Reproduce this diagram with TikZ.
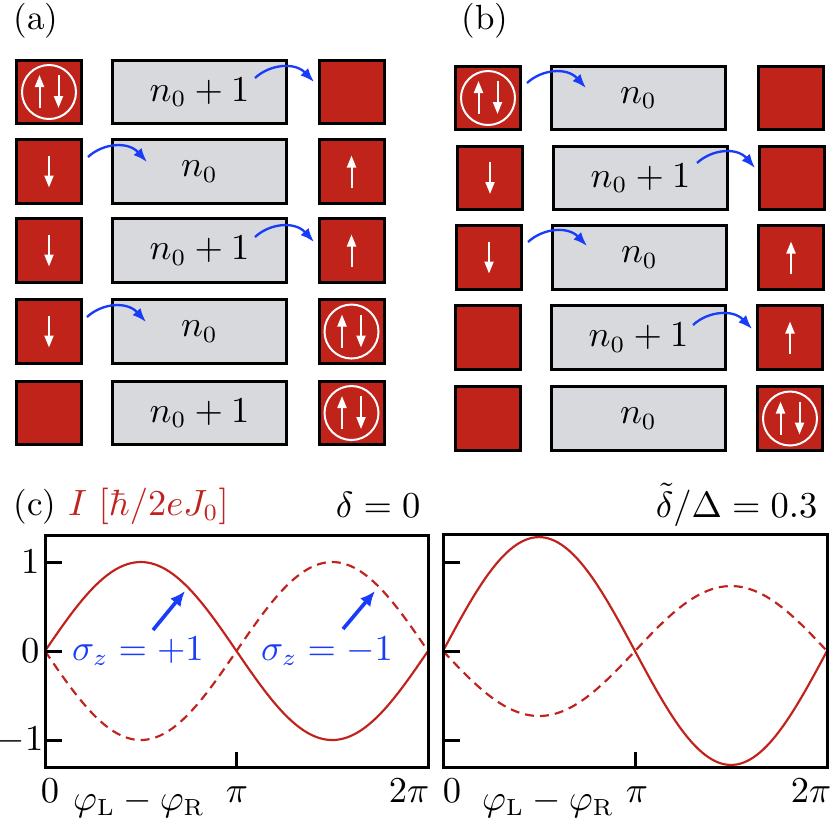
\documentclass[tikz,border=0pt]{standalone}
\usetikzlibrary{arrows.meta}
\definecolor{cred}{RGB}{192,35,26}
\definecolor{cgray}{RGB}{216,217,220}
\definecolor{cblue}{RGB}{25,60,250}
\definecolor{pred}{RGB}{192,35,30}
\tikzset{
  every node/.style={font=\fontsize{10.5}{12.6}\selectfont},
  lbl/.style={inner sep=0pt},
  site/.style={draw=black,line width=0.9pt,fill=cred,minimum width=19.5pt,minimum height=19pt,inner sep=0pt},
  dotbox/.style={draw=black,line width=0.9pt,fill=cgray,minimum width=52.2pt,minimum height=19pt,inner sep=0pt},
  hop/.style={cblue,line width=0.7pt,-{Latex[length=4.2pt,width=3.2pt]}},
  marker/.style={cblue,line width=1.1pt,-{Latex[length=4.5pt,width=4pt]}},
  frame/.style={draw=black,line width=0.9pt},
  tickline/.style={black,line width=0.9pt},
  curve/.style={pred,line width=0.65pt,smooth},
  dcurve/.style={pred,line width=0.65pt,smooth,dash pattern=on 2.7pt off 1.8pt},
  spinup/.pic={\draw[white,line width=0.6pt,-{Triangle[length=3.6pt,width=2.7pt]}] (0,16)--(0,-16);},
  spindown/.pic={\draw[white,line width=0.6pt,-{Triangle[length=3.6pt,width=2.7pt]}] (0,-16)--(0,16);},
  spinpair/.pic={\draw[white,line width=0.6pt] (0,0) circle[radius=27];
    \draw[white,line width=0.6pt,-{Triangle[length=3.6pt,width=2.7pt]}] (-9.5,16)--(-9.5,-17);
    \draw[white,line width=0.6pt,-{Triangle[length=3.6pt,width=2.7pt]}] (9.5,-17)--(9.5,16);}
}
\begin{document}
\begin{tikzpicture}[x=0.3pt,y=-0.3pt]
\useasboundingbox (0,0) rectangle (830,818);
% ---------------- panel (a)
\node[lbl,anchor=base west] (la) at (13,29) {(a)};
\node[site] (aL1) at (49,92) {};
\node[site] (aL2) at (49,171.5) {};
\node[site] (aL3) at (49,250.5) {};
\node[site] (aL4) at (49,331.5) {};
\node[site] (aL5) at (49,413) {};
\node[dotbox] (aM1) at (199.5,92) {$n_0+1$};
\node[dotbox] (aM2) at (199.5,171.5) {$n_0$};
\node[dotbox] (aM3) at (199.5,250.5) {$n_0+1$};
\node[dotbox] (aM4) at (199.5,331.5) {$n_0$};
\node[dotbox] (aM5) at (199.5,413) {$n_0+1$};
\node[site] (aR1) at (351.5,92) {};
\node[site] (aR2) at (351.5,171.5) {};
\node[site] (aR3) at (351.5,250.5) {};
\node[site] (aR4) at (351.5,331.5) {};
\node[site] (aR5) at (351.5,413) {};
\pic at (aL1) {spinpair};
\pic at (aL2) {spindown};
\pic at (aL3) {spindown};
\pic at (aL4) {spindown};
\pic at (aR2) {spinup};
\pic at (aR3) {spinup};
\pic at (aR4) {spinpair};
\pic at (aR5) {spinpair};
\coordinate (ha1s) at (255,78);  \coordinate (ha1e) at (314,82);
\coordinate (ha2s) at (88,157);  \coordinate (ha2e) at (147,162);
\coordinate (ha3s) at (255,237); \coordinate (ha3e) at (314,242);
\coordinate (ha4s) at (87,317);  \coordinate (ha4e) at (146,322);
\draw[hop] (ha1s) .. controls (270,64) and (295,62) .. (ha1e);
\draw[hop] (ha2s) .. controls (103,143) and (128,141) .. (ha2e);
\draw[hop] (ha3s) .. controls (270,223) and (295,221) .. (ha3e);
\draw[hop] (ha4s) .. controls (102,303) and (127,301) .. (ha4e);
% ---------------- panel (b)
\node[lbl,anchor=base west] (lb) at (461,29) {(b)};
\node[site] (bL1) at (488,98) {};
\node[site] (bL2) at (490,178) {};
\node[site] (bL3) at (489,257.5) {};
\node[site] (bL4) at (488,337.5) {};
\node[site] (bL5) at (488,418.5) {};
\node[dotbox] (bM1) at (638.5,98) {$n_0$};
\node[dotbox] (bM2) at (640.5,178) {$n_0+1$};
\node[dotbox] (bM3) at (639.5,257.5) {$n_0$};
\node[dotbox] (bM4) at (638.5,337.5) {$n_0+1$};
\node[dotbox] (bM5) at (638.5,418.5) {$n_0$};
\node[site] (bR1) at (790.5,98) {};
\node[site] (bR2) at (792,178) {};
\node[site] (bR3) at (791,257.5) {};
\node[site] (bR4) at (790,337.5) {};
\node[site] (bR5) at (790,418.5) {};
\pic at (bL1) {spinpair};
\pic at (bL2) {spindown};
\pic at (bL3) {spindown};
\pic at (bR3) {spinup};
\pic at (bR4) {spinup};
\pic at (bR5) {spinpair};
\coordinate (hb1s) at (527,83);  \coordinate (hb1e) at (586,88);
\coordinate (hb2s) at (697,163); \coordinate (hb2e) at (755,168);
\coordinate (hb3s) at (528,242); \coordinate (hb3e) at (587,246);
\coordinate (hb4s) at (693,325); \coordinate (hb4e) at (752,329);
\draw[hop] (hb1s) .. controls (542,69) and (567,67) .. (hb1e);
\draw[hop] (hb2s) .. controls (712,149) and (737,147) .. (hb2e);
\draw[hop] (hb3s) .. controls (543,228) and (568,226) .. (hb3e);
\draw[hop] (hb4s) .. controls (708,311) and (733,309) .. (hb4e);
% ---------------- panel (c) left
\node[lbl,anchor=base west] (lc) at (13,515) {(c) \textcolor{pred}{$I~[\hbar/2eJ_0]$}};
\node[lbl,anchor=base east] (d0) at (421,517) {$\delta=0$};
\draw[curve] plot[domain=0:360,samples=121] ({45+\x/360*383},{651-89*sin(\x)});
\draw[dcurve] plot[domain=0:360,samples=121] ({45+\x/360*383},{651+89*sin(\x)});
\draw[tickline] (45,562) -- (62,562);
\draw[tickline] (45,651) -- (62,651);
\draw[tickline] (45,740) -- (62,740);
\draw[tickline] (236.5,767) -- (236.5,752);
\draw[frame] (45,535) rectangle (428,767);
\node[lbl,anchor=base east] (y1) at (40,573) {$1$};
\node[lbl,anchor=base east] (y0) at (40,662) {$0$};
\node[lbl,anchor=base east] (ym1) at (44,750) {$-1$};
\node[lbl,anchor=base] (x0) at (50,802) {$0$};
\node[lbl,anchor=base] (xpi) at (237,802) {$\pi$};
\node[lbl,anchor=base] (x2pi) at (409,802) {$2\pi$};
\node[lbl,anchor=base] (xlab) at (139,810) {$\varphi_{\mathrm{L}}-\varphi_{\mathrm{R}}$};
\node[lbl,anchor=base,text=cblue] (sp) at (138,660) {$\sigma_z=+1$};
\node[lbl,anchor=base,text=cblue] (sm) at (327,660) {$\sigma_z=-1$};
\coordinate (m1s) at (153,630); \coordinate (m1e) at (185,591);
\coordinate (m2s) at (343,629); \coordinate (m2e) at (375,591);
\draw[marker] (m1s) -- (m1e);
\draw[marker] (m2s) -- (m2e);
% ---------------- panel (c) right
\node[lbl,anchor=base east] (d3) at (818,517) {$\tilde\delta/\Delta=0.3$};
\draw[curve] plot[domain=0:360,samples=121] ({443+\x/360*384},{651-89*1.28*sin(\x)});
\draw[dcurve] plot[domain=0:360,samples=121] ({443+\x/360*384},{651+89*0.73*sin(\x)});
\draw[tickline] (443,562) -- (460,562);
\draw[tickline] (443,651) -- (460,651);
\draw[tickline] (443,740) -- (460,740);
\draw[tickline] (635,767) -- (635,752);
\draw[frame] (443,534) rectangle (827,767);
\node[lbl,anchor=base] (rx0) at (452,802) {$0$};
\node[lbl,anchor=base] (rxpi) at (637,802) {$\pi$};
\node[lbl,anchor=base] (rx2pi) at (811,802) {$2\pi$};
\node[lbl,anchor=base] (rxlab) at (548,810) {$\varphi_{\mathrm{L}}-\varphi_{\mathrm{R}}$};
\end{tikzpicture}
\end{document}
